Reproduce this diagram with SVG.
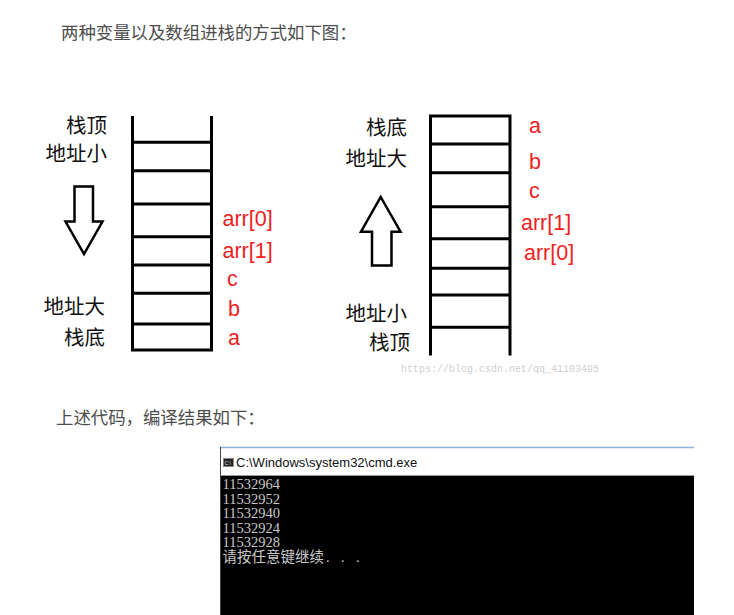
<svg xmlns="http://www.w3.org/2000/svg" width="734" height="615" viewBox="0 0 734 615">
<style>
.cap{font-family:"Noto Sans CJK SC","Liberation Sans",sans-serif;font-size:17.4px;fill:#4d4d4d}
.lbl{font-family:"Noto Sans CJK SC","Liberation Sans",sans-serif;font-size:20.5px;fill:#111}
.red{font-family:"Liberation Sans","Noto Sans",sans-serif;font-size:21.5px;fill:#ee2222}
.stk{stroke:#000;stroke-width:3;fill:none}
.arw{stroke:#000;stroke-width:2.5;fill:#fff;stroke-linejoin:miter}
.con{font-family:"Liberation Serif","Noto Sans CJK SC",serif;font-size:14.5px;fill:#c8c8c8}
.wm{font-family:"Liberation Mono",monospace;font-size:10px;fill:#d0d0d0}
</style>
<rect width="734" height="615" fill="#fff"/>
<text class="cap" x="61" y="38.5">两种变量以及数组进栈的方式如下图：</text>

<g id="left-stack">
<path class="stk" d="M132.5,116V351.5M211.5,116V351.5M132.5,142.3H211.5M132.5,170.7H211.5M132.5,204H211.5M132.5,236.7H211.5M132.5,265H211.5M132.5,293.3H211.5M132.5,324H211.5M132.5,350H211.5"/>
</g>
<g id="left-labels">
<text class="lbl" x="107" y="133" text-anchor="end">栈顶</text>
<text class="lbl" x="107" y="161" text-anchor="end">地址小</text>
<text class="lbl" x="105" y="314" text-anchor="end">地址大</text>
<text class="lbl" x="105" y="344.5" text-anchor="end">栈底</text>
</g>
<g id="left-arrow">
<path class="arw" d="M74.5,186.5H93V221.5H102.5L84,254L65.5,221.5H74.5Z"/>
</g>
<g id="left-vars">
<text class="red" x="222.5" y="225.5">arr[0]</text>
<text class="red" x="222.5" y="257.5">arr[1]</text>
<text class="red" x="227" y="285.5">c</text>
<text class="red" x="228" y="315.5">b</text>
<text class="red" x="228" y="344.5">a</text>
</g>

<g id="right-stack">
<path class="stk" d="M430.5,116V355.5M510,116V355.5M429,116H511.5M430.5,144H510M430.5,172.7H510M430.5,206.7H510M430.5,238.7H510M430.5,268.3H510M430.5,295H510M430.5,327.3H510"/>
</g>
<g id="right-labels">
<text class="lbl" x="407" y="135" text-anchor="end">栈底</text>
<text class="lbl" x="407" y="165.5" text-anchor="end">地址大</text>
<text class="lbl" x="407" y="320.5" text-anchor="end">地址小</text>
<text class="lbl" x="410" y="349.5" text-anchor="end">栈顶</text>
</g>
<g id="right-arrow">
<path class="arw" d="M372,265.5V231.7H361L380.7,197L400.5,231.7H391.5V265.5Z"/>
</g>
<g id="right-vars">
<text class="red" x="529" y="132.5">a</text>
<text class="red" x="529" y="168.5">b</text>
<text class="red" x="529" y="197.5">c</text>
<text class="red" x="521" y="229.5">arr[1]</text>
<text class="red" x="524" y="259.5">arr[0]</text>
</g>
<text class="wm" x="401" y="372">https://blog.csdn.net/qq_41103495</text>

<text class="cap" x="56" y="424">上述代码，编译结果如下：</text>

<g id="cmd-window">
<rect x="220.5" y="447.5" width="474" height="28" fill="#fff"/>
<line x1="220" y1="447.5" x2="694" y2="447.5" stroke="#8fb4d9" stroke-width="1.5"/>
<line x1="220.5" y1="447" x2="220.5" y2="615" stroke="#444" stroke-width="1"/>
<rect x="221" y="475" width="473" height="140" fill="#000"/>
<line x1="221" y1="475.5" x2="694" y2="475.5" stroke="#999" stroke-width="1"/>
<rect x="223.5" y="458.5" width="10" height="8" fill="#222" stroke="#888" stroke-width="1"/>
<text x="224.5" y="465" font-family="Liberation Sans,sans-serif" font-size="5" fill="#ddd">C:\</text>
<text x="236" y="467" font-family="Liberation Sans,Noto Sans,sans-serif" font-size="13" fill="#111">C:\Windows\system32\cmd.exe</text>
<text class="con" x="222.5" y="489">11532964</text>
<text class="con" x="222.5" y="503.5">11532952</text>
<text class="con" x="222.5" y="518">11532940</text>
<text class="con" x="222.5" y="532.5">11532924</text>
<text class="con" x="222.5" y="547">11532928</text>
<text class="con" x="222.5" y="562" font-size="14">请按任意键继续<tspan x="326">.</tspan><tspan x="341">.</tspan><tspan x="356">.</tspan></text>
</g>
</svg>
